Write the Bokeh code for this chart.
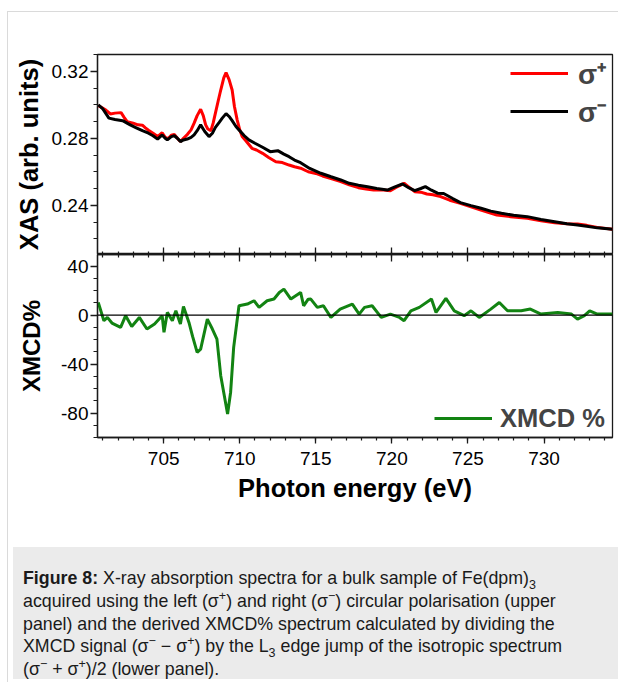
from bokeh.plotting import figure
from bokeh.models import (Range1d, SingleIntervalTicker, LinearAxis, Span, Legend,
                          LegendItem, Div, PrintfTickFormatter, CustomJSTickFormatter)
from bokeh.layouts import column
from bokeh.embed import file_html
from bokeh.resources import INLINE

# ---------------- data ----------------
e_plus = [700.7, 700.9, 701.2, 701.5, 701.8, 702.2, 702.4, 702.6, 703.0, 703.3, 703.6, 703.8,
          704.0, 704.3, 704.6, 704.9, 705.1, 705.3, 705.5, 705.7, 705.9, 706.1, 706.3, 706.55,
          706.8, 707.0, 707.2, 707.43, 707.6, 707.76, 707.9, 708.1, 708.25, 708.4, 708.6, 708.75,
          708.95, 709.1, 709.3, 709.5, 709.65, 709.83, 710.0, 710.16, 710.4, 710.8, 711.1, 711.5,
          711.9, 712.37, 712.8, 713.24, 713.6, 714.0, 714.5, 715.0, 715.44, 716.0, 716.64, 717.2,
          717.8, 718.3, 718.8, 719.3, 719.9, 720.3, 720.8, 721.1, 721.5, 721.9, 722.3, 722.7,
          723.2, 723.8, 724.5, 725.2, 725.9, 726.9, 727.8, 728.9, 729.8, 730.7, 731.5, 732.2,
          732.8, 733.5, 734.5]
xas_plus = [0.2995, 0.2985, 0.2968, 0.2945, 0.2950, 0.2953, 0.2925, 0.2899, 0.2890, 0.2880, 0.2878, 0.2862,
            0.2848, 0.2830, 0.2810, 0.2833, 0.2805, 0.2798, 0.2818, 0.2822, 0.2800, 0.2780, 0.2800, 0.2822,
            0.2850, 0.2890, 0.2935, 0.2973, 0.2935, 0.2880, 0.2855, 0.2845, 0.2890, 0.2950, 0.3030, 0.3088,
            0.3160, 0.3192, 0.3150, 0.3088, 0.2990, 0.2910, 0.2850, 0.2810, 0.2785, 0.2740, 0.2730, 0.2710,
            0.2685, 0.2660, 0.2655, 0.2640, 0.2630, 0.2621, 0.2600, 0.2590, 0.2575, 0.2560, 0.2541, 0.2522,
            0.2505, 0.2497, 0.2491, 0.2493, 0.2487, 0.2508, 0.2531, 0.2510, 0.2481, 0.2478, 0.2467, 0.2463,
            0.2452, 0.2430, 0.2412, 0.2390, 0.2370, 0.2342, 0.2332, 0.2322, 0.2308, 0.2296, 0.2290, 0.2288,
            0.2280, 0.2268, 0.2257]

e_minus = [700.7, 701.0, 701.4, 701.8, 702.3, 702.8, 703.2, 703.6, 704.0, 704.3, 704.6, 704.9,
           705.1, 705.24, 705.5, 705.7, 705.9, 706.1, 706.3, 706.55, 706.8, 707.0, 707.2, 707.43,
           707.7, 707.98, 708.2, 708.4, 708.65, 708.85, 709.1, 709.3, 709.5, 709.75, 709.95, 710.3,
           710.6, 711.0, 711.5, 712.0, 712.5, 712.9, 713.24, 713.6, 714.0, 714.6, 715.33, 716.0,
           716.64, 717.2, 717.8, 718.4, 719.0, 719.7, 720.2, 720.7, 721.1, 721.5, 721.9, 722.2,
           722.6, 723.0, 723.4, 724.0, 724.5, 725.2, 725.86, 726.5, 727.2, 728.0, 728.9, 729.8,
           730.7, 731.5, 732.2, 732.8, 733.5, 734.5]
xas_minus = [0.3000, 0.2975, 0.2920, 0.2912, 0.2905, 0.2880, 0.2862, 0.2845, 0.2830, 0.2815, 0.2795, 0.2820,
             0.2800, 0.2790, 0.2810, 0.2815, 0.2800, 0.2780, 0.2790, 0.2795, 0.2805, 0.2820, 0.2845, 0.2880,
             0.2840, 0.2810, 0.2830, 0.2865, 0.2895, 0.2920, 0.2947, 0.2930, 0.2905, 0.2870, 0.2850, 0.2815,
             0.2790, 0.2770, 0.2746, 0.2720, 0.2726, 0.2705, 0.2690, 0.2670, 0.2654, 0.2620, 0.2591, 0.2570,
             0.2551, 0.2531, 0.2520, 0.2511, 0.2500, 0.2491, 0.2510, 0.2527, 0.2505, 0.2487, 0.2500, 0.2511,
             0.2490, 0.2472, 0.2470, 0.2440, 0.2416, 0.2398, 0.2382, 0.2365, 0.2352, 0.2340, 0.2332, 0.2315,
             0.2302, 0.2290, 0.2282, 0.2275, 0.2265, 0.2257]

e_xmcd = [700.7, 701.07, 701.3, 701.6, 702.17, 702.5, 702.9, 703.4, 703.9, 704.4, 704.9, 705.02,
          705.24, 705.57, 705.8, 706.1, 706.3, 706.66, 706.9, 707.2, 707.43, 707.87, 708.2, 708.5,
          708.75, 709.2, 709.4, 709.6, 709.95, 710.5, 710.94, 711.27, 711.8, 712.25, 712.6, 712.9,
          713.36, 714.0, 714.2, 714.5, 714.67, 715.1, 715.5, 715.99, 716.6, 717.4, 717.85, 718.2,
          718.7, 719.3, 719.9, 720.5, 720.8, 721.25, 721.8, 722.6, 722.9, 723.55, 724.1, 724.75,
          725.2, 725.74, 726.5, 727.06, 727.6, 728.5, 729.1, 729.8, 730.9, 731.8, 732.2, 732.65,
          733.0, 733.5, 734.5]
xmcd = [10.3, -4.6, -1.9, -6.5, -10.0, -0.5, -9.3, -1.9, -11.4, -7.3, -0.5, -14.1,
        2.2, -4.6, 3.5, -7.3, 7.1, -6.0, -17.4, -30.5, -27.8, -3.3, -11.4, -19.6,
        -49.5, -80.8, -63.0, -26.4, 7.6, 9.0, 11.7, 6.3, 11.7, 13.1, 18.5, 21.2,
        13.1, 18.5, 7.6, 13.0, 13.1, 6.3, 7.6, -1.9, 4.9, 9.0, 0.8, 6.3,
        7.6, -1.9, 0.8, -1.9, -4.6, 3.5, 6.3, 13.1, 2.2, 13.6, 3.5, -0.5,
        3.5, -1.9, 4.9, 10.3, 3.5, 3.5, 4.9, 0.8, 2.2, 0.8, -3.3, -0.5,
        3.5, 0.8, 0.8]

x_label = "Photon energy (eV)"
y1_label = "XAS (arb. units)"
y2_label = "XMCD%"
legend_plus = "σ⁺"
legend_minus = "σ⁻"
legend_xmcd = "XMCD %"

FONT = "Liberation Sans"
AX = "#1a1a1a"

x_range = Range1d(700.65, 734.5)


def style_common(p):
    p.xgrid.visible = False
    p.ygrid.visible = False
    p.outline_line_color = AX
    p.outline_line_width = 1.3
    p.outline_line_alpha = 1
    p.background_fill_color = "white"
    p.border_fill_color = "white"


def hidden_x_axis(ax):
    ax.ticker = SingleIntervalTicker(interval=5, num_minor_ticks=5)
    ax.formatter = CustomJSTickFormatter(code="return ''")
    ax.major_label_text_font_size = "0px"
    ax.major_label_standoff = 0
    ax.major_tick_in = 7
    ax.major_tick_out = 0
    ax.minor_tick_in = 3
    ax.minor_tick_out = 0
    ax.axis_line_color = AX
    ax.axis_line_width = 1.3
    ax.major_tick_line_color = AX
    ax.major_tick_line_width = 1.3
    ax.minor_tick_line_color = AX
    ax.minor_tick_line_width = 1.2


def style_y(ax, label, ticker, fmt, label_size, label_standoff):
    ax.ticker = ticker
    ax.formatter = fmt
    ax.axis_label = label
    ax.axis_label_text_font = FONT
    ax.axis_label_text_font_style = "bold"
    ax.axis_label_text_font_size = label_size
    ax.axis_label_text_color = "black"
    ax.axis_label_standoff = label_standoff
    ax.major_label_text_font = FONT
    ax.major_label_text_font_size = "19px"
    ax.major_label_text_color = "black"
    ax.major_label_standoff = 2
    ax.major_tick_in = 0
    ax.major_tick_out = 7
    ax.minor_tick_in = 0
    ax.minor_tick_out = 4
    ax.axis_line_color = AX
    ax.axis_line_width = 1.3
    ax.major_tick_line_color = AX
    ax.major_tick_line_width = 1.3
    ax.minor_tick_line_color = AX
    ax.minor_tick_line_width = 1.2


W = 609
MBL = 89
MBR = 5

# ---------------- upper panel ----------------
p1 = figure(width=W, frame_height=200, x_range=x_range, y_range=Range1d(0.2106, 0.330),
            output_backend="svg", toolbar_location=None,
            min_border_left=MBL, min_border_right=MBR, min_border_top=42, min_border_bottom=0)
style_common(p1)
hidden_x_axis(p1.xaxis[0])
style_y(p1.yaxis[0], y1_label, SingleIntervalTicker(interval=0.04, num_minor_ticks=4),
        PrintfTickFormatter(format="%.2f"), "25.5px", 6)

r_plus = p1.line(e_plus, xas_plus, line_color="#ff0000", line_width=3)
r_minus = p1.line(e_minus, xas_minus, line_color="black", line_width=3)

leg1 = Legend(items=[LegendItem(label=legend_plus, renderers=[r_plus]),
                     LegendItem(label=legend_minus, renderers=[r_minus])],
              location=(413, 124), border_line_color=None, background_fill_alpha=0,
              label_text_font=FONT, label_text_font_style="bold", label_text_font_size="28px",
              glyph_width=58, glyph_height=30, label_height=30, spacing=0, padding=0,
              margin=0, label_standoff=10)
p1.add_layout(leg1)

# ---------------- lower panel ----------------
p2 = figure(width=W, frame_height=183, x_range=x_range, y_range=Range1d(-100, 49.5),
            output_backend="svg", toolbar_location=None,
            min_border_left=MBL, min_border_right=MBR, min_border_top=0, min_border_bottom=8)
style_common(p2)
top_ax = LinearAxis()
hidden_x_axis(top_ax)
p2.add_layout(top_ax, "above")

for ax in p2.below:
    ax.ticker = SingleIntervalTicker(interval=5, num_minor_ticks=5)
    ax.axis_label = x_label
    ax.axis_label_text_font = FONT
    ax.axis_label_text_font_style = "bold"
    ax.axis_label_text_font_size = "25.5px"
    ax.axis_label_text_color = "black"
    ax.axis_label_standoff = 6
    ax.major_label_text_font = FONT
    ax.major_label_text_font_size = "19px"
    ax.major_label_text_color = "black"
    ax.major_label_standoff = 8
    ax.major_tick_in = 0
    ax.major_tick_out = 6
    ax.minor_tick_in = 0
    ax.minor_tick_out = 3
    ax.axis_line_color = AX
    ax.axis_line_width = 1.3
    ax.major_tick_line_color = AX
    ax.major_tick_line_width = 1.3
    ax.minor_tick_line_color = AX
    ax.minor_tick_line_width = 1.2

style_y(p2.yaxis[0], y2_label, SingleIntervalTicker(interval=40, num_minor_ticks=4),
        PrintfTickFormatter(format="%d"), "24px", 13)

p2.add_layout(Span(location=0, dimension="width", line_color="black", line_width=1.2))
r_x = p2.line(e_xmcd, xmcd, line_color="#128312", line_width=3)

leg2 = Legend(items=[LegendItem(label=legend_xmcd, renderers=[r_x])],
              location=(337, 4), border_line_color=None, background_fill_alpha=0,
              label_text_font=FONT, label_text_font_style="bold", label_text_font_size="25.5px",
              glyph_width=58, glyph_height=30, label_height=30, padding=0, margin=0,
              label_standoff=8)
p2.add_layout(leg2)

# ---------------- caption ----------------
SUP = '<sup style="font-size:12.5px;line-height:0">'
SUB = '<sub style="font-size:12.5px;line-height:0">'
cap_html = (
    '<div style="font-family:\'Liberation Sans\',Arial,sans-serif;font-size:17.8px;'
    'line-height:22.75px;color:#1a1a1a;padding:20px 0 0 10px;white-space:nowrap;">'
    '<b>Figure 8:</b> X-ray absorption spectra for a bulk sample of Fe(dpm)' + SUB + '3</sub><br>'
    'acquired using the left (σ' + SUP + '+</sup>) and right '
    '(σ' + SUP + '−</sup>) circular polarisation (upper<br>'
    'panel) and the derived XMCD% spectrum calculated by dividing the<br>'
    'XMCD signal (σ' + SUP + '−</sup> − σ' + SUP + '+</sup>) '
    'by the L' + SUB + '3</sub> edge jump of the isotropic spectrum<br>'
    '(σ' + SUP + '−</sup> + σ' + SUP + '+</sup>)/2 (lower panel).'
    '</div>'
)
cap = Div(text=cap_html, width=W, height=132,
          styles={"background-color": "#ebebeb", "margin-top": "43px", "overflow": "hidden"})

layout = column(p1, p2, cap,
                styles={"border-top": "1px solid #dadada", "border-left": "1px solid #dadada",
                        "margin-top": "11px", "margin-left": "7px"})

with open("out.html", "w") as f:
    f.write(file_html(layout, INLINE, title="Figure 8"))
